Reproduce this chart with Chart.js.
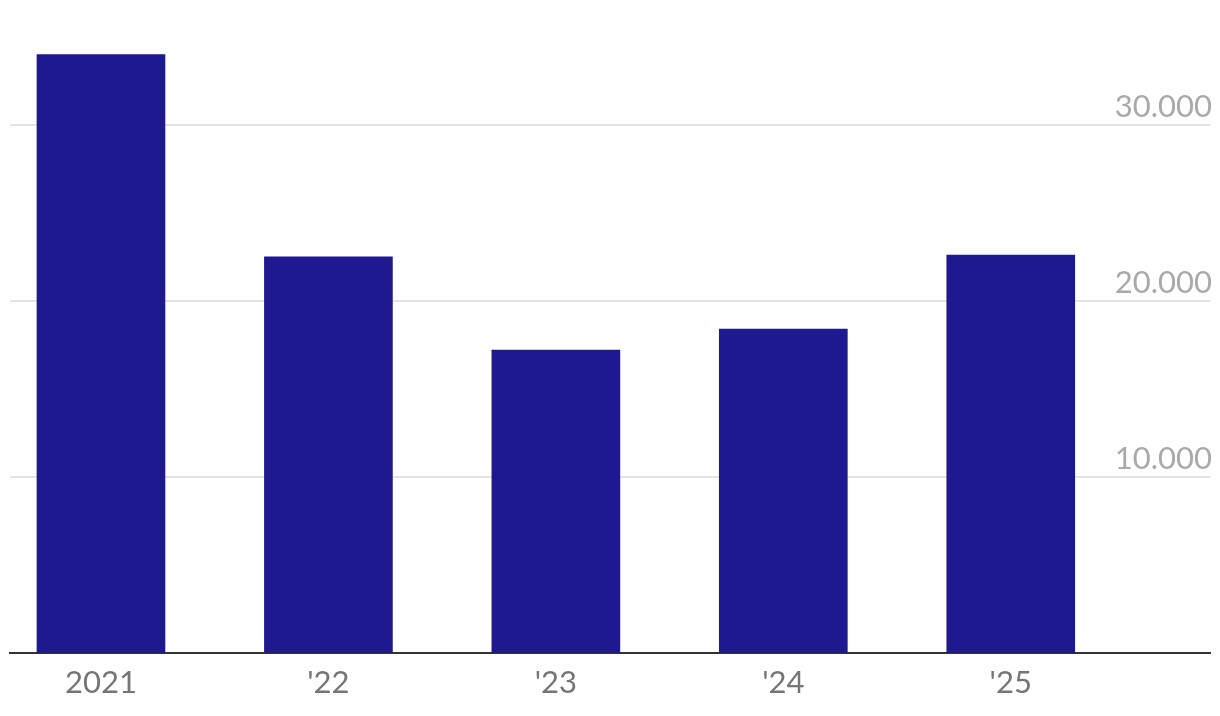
<!DOCTYPE html>
<html>
<head>
<meta charset="utf-8">
<script src="https://cdn.jsdelivr.net/npm/chart.js@4/dist/chart.umd.min.js"></script>
<style>
  html, body { margin: 0; padding: 0; background: #ffffff; }
  #wrap { width: 1220px; height: 716px; position: relative; }
</style>
</head>
<body>
<div id="wrap"><canvas id="c" width="1220" height="716"></canvas></div>
<script>
// ---- data ----
const categories = ['2021', "'22", "'23", "'24", "'25"];
const values = [34000, 22500, 17200, 18400, 22600];
const yTickValues = [10000, 20000, 30000];
const yTickLabels = ['10.000', '20.000', '30.000'];

const points = values.map((v, i) => ({ x: i, y: v }));

new Chart(document.getElementById('c'), {
  type: 'bar',
  data: {
    datasets: [{
      data: points,
      backgroundColor: '#1e198f',
      borderWidth: 0,
      barThickness: 128
    }]
  },
  options: {
    responsive: false,
    animation: false,
    events: [],
    layout: { padding: { left: 10, right: 6, top: 37, bottom: 2 } },
    plugins: { legend: { display: false }, tooltip: { enabled: false } },
    scales: {
      x: {
        type: 'linear',
        offset: false,
        min: -0.4,
        max: 4.876,
        grid: { display: false, drawTicks: false },
        border: { display: true, color: '#333333', width: 2 },
        afterBuildTicks: (scale) => { scale.ticks = categories.map((c, i) => ({ value: i })); },
        ticks: {
          padding: 12,
          color: '#757575',
          font: { family: 'Lato', size: 31 },
          callback: (v) => categories[v] !== undefined ? categories[v] : ''
        }
      },
      y: {
        position: 'right',
        min: 0,
        max: 35000,
        grid: { color: '#e4e4e4', lineWidth: 2, drawTicks: false },
        border: { display: false },
        afterBuildTicks: (scale) => { scale.ticks = yTickValues.map(v => ({ value: v })); },
        ticks: {
          mirror: true,
          padding: 2,
          labelOffset: -18,
          color: '#a9a9a9',
          font: { family: 'Lato', size: 31 },
          callback: (v) => { const k = yTickValues.indexOf(v); return k >= 0 ? yTickLabels[k] : ''; }
        }
      }
    }
  }
});
</script>
</body>
</html>
